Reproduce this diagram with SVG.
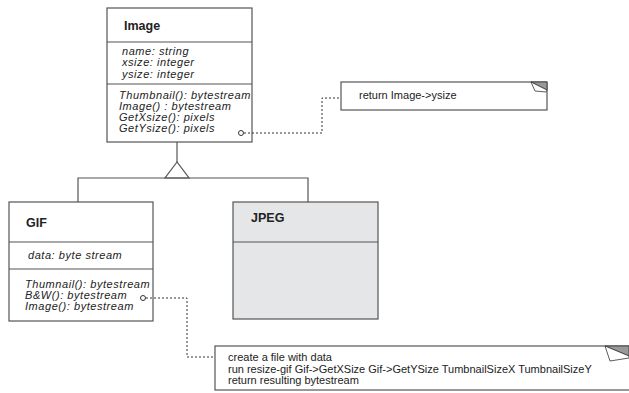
<svg xmlns="http://www.w3.org/2000/svg" width="629" height="393" viewBox="0 0 629 393">
<style>
.box{fill:#fff;stroke:#555;stroke-width:1.2}
.gray{fill:#e5e6e8;stroke:#555;stroke-width:1.2}
.ln{stroke:#555;stroke-width:1.2;fill:none}
.dot{stroke:#333;stroke-width:1;fill:none;stroke-dasharray:2,2}
.t{font-family:"Liberation Sans",Arial,sans-serif;font-size:11px;fill:#222}
.m{font-style:italic;letter-spacing:0.55px}
.b{font-weight:bold;font-size:12.5px}
.fold{fill:#999;stroke:#333;stroke-width:0.8}
.foldw{fill:#fff;stroke:#333;stroke-width:0.8}
.pin{fill:#fff;stroke:#333;stroke-width:1}
</style>
<g id="Image">
<rect class="box" x="107" y="8" width="145" height="134"/>
<line class="ln" x1="107" y1="42" x2="252" y2="42"/>
<line class="ln" x1="107" y1="84" x2="252" y2="84"/>
<text class="t b" x="124" y="30">Image</text>
<text class="t m" x="122" y="55">name: string</text>
<text class="t m" x="122" y="66">xsize: integer</text>
<text class="t m" x="122" y="78">ysize: integer</text>
<text class="t m" x="119" y="99">Thumbnail(): bytestream</text>
<text class="t m" x="119" y="110">Image() : bytestream</text>
<text class="t m" x="119" y="121">GetXsize(): pixels</text>
<text class="t m" x="119" y="132">GetYsize(): pixels</text>
</g>
<g id="GIF">
<rect class="box" x="9" y="202" width="144" height="119"/>
<line class="ln" x1="9" y1="242" x2="153" y2="242"/>
<line class="ln" x1="9" y1="269" x2="153" y2="269"/>
<text class="t b" x="26" y="227">GIF</text>
<text class="t m" x="28" y="259">data: byte stream</text>
<text class="t m" x="25" y="288">Thumnail(): bytestream</text>
<text class="t m" x="25" y="299">B&amp;W(): bytestream</text>
<text class="t m" x="25" y="310">Image(): bytestream</text>
</g>
<g id="JPEG">
<rect class="gray" x="233" y="202" width="145" height="117"/>
<line class="ln" x1="233" y1="242" x2="378" y2="242"/>
<text class="t b" x="251" y="222">JPEG</text>
</g>
<g id="note1">
<rect class="box" x="341" y="82" width="206" height="28"/>
<polygon class="fold" points="531,82 547,82 547,90"/>
<polygon class="foldw" points="531,82 547,90 546,92 535,91"/>
<text class="t" x="359" y="99">return Image-&gt;ysize</text>
</g>
<g id="note2">
<rect class="box" x="215" y="346" width="420" height="44"/>
<polygon class="fold" points="605,346 629,346 629,356"/>
<polygon class="foldw" points="605,346 629,356 629,358 610,361"/>
<text class="t" x="228" y="361">create a file with data</text>
<text class="t" x="228" y="373">run resize-gif Gif-&gt;GetXSize Gif-&gt;GetYSize TumbnailSizeX TumbnailSizeY</text>
<text class="t" x="228" y="384">return resulting bytestream</text>
</g>
<g id="connectors">
<polyline class="ln" points="177,142 177,162"/>
<polygon class="ln" points="177,162 165,178 189,178" fill="#fff"/>
<polyline class="ln" points="78,202 78,178 308,178 308,202"/>
<polyline class="dot" points="244,133 322,133 322,98 341,98"/>
<circle class="pin" cx="241" cy="133" r="2.5"/>
<polyline class="dot" points="146,298 187,298 187,357 215,357"/>
<circle class="pin" cx="143" cy="298" r="2.5"/>
</g>
</svg>
